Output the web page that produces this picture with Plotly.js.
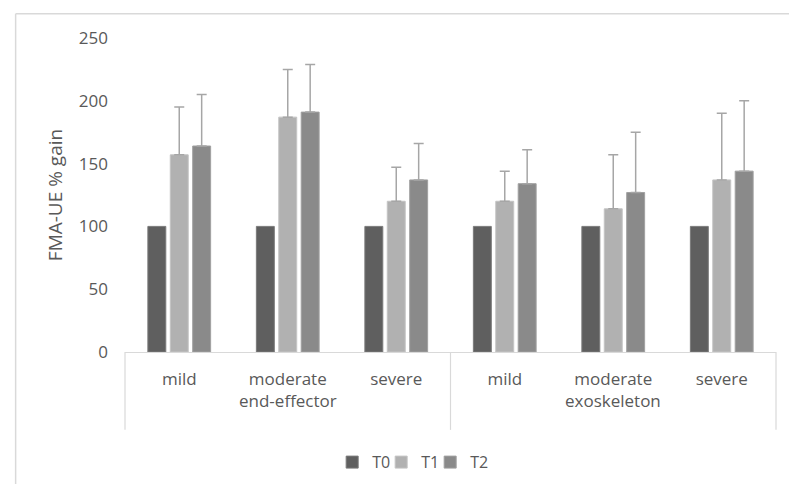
<!DOCTYPE html>
<html>
<head>
<meta charset="utf-8">
<script src="https://cdn.plot.ly/plotly-3.0.1.min.js"></script>
<style>html,body{margin:0;padding:0;background:#fff;}#chart{width:789px;height:484px;}</style>
</head>
<body>
<div id="chart"></div>
<script>
// Data
var devices = ["end-effector", "end-effector", "end-effector", "exoskeleton", "exoskeleton", "exoskeleton"];
var severity = ["mild", "moderate", "severe", "mild", "moderate", "severe"];
var seriesNames = ["T0", "T1", "T2"];
var t0 = [100, 100, 100, 100, 100, 100];
var t1 = [157, 187, 120, 120, 114, 137];
var t2 = [164, 191, 137, 134, 127, 144];
var t0err = [0, 0, 0, 0, 0, 0];
var t1err = [38, 38, 27, 24, 43, 53];
var t2err = [41, 38, 29, 27, 48, 56];
var yTicks = [0, 50, 100, 150, 200, 250];

var colors = ["#5f5f5f", "#b1b1b1", "#8a8a8a"];
var lineColors = ["#7a7a7a", "#c4c4c4", "#a0a0a0"];
var legendWidths = [4, 4, 26];
var values = [t0, t1, t2];
var errs = [t0err, t1err, t2err];

// unique category keys (device | severity); shown with the severity label only
var xKeys = devices.map(function (d, i) { return d + "|" + severity[i]; });

// one group label per device, centred on the middle category of that device
var groups = [];
devices.forEach(function (d, i) {
  var g = groups.filter(function (o) { return o.name === d; })[0];
  if (!g) { g = { name: d, idx: [] }; groups.push(g); }
  g.idx.push(i);
});

var FONT = "'Open Sans', sans-serif";
var traces = seriesNames.map(function (name, i) {
  var tr = {
    type: "bar",
    name: name,
    x: xKeys,
    y: values[i],
    legendwidth: legendWidths[i],
    marker: { color: colors[i], line: { color: lineColors[i], width: 1 } },
    hoverinfo: "skip"
  };
  if (i > 0) {
    tr.error_y = {
      type: "data",
      symmetric: false,
      array: errs[i],
      arrayminus: errs[i].map(function () { return 0; }),
      color: "#a6a6a6",
      thickness: 1.5,
      width: 5
    };
  }
  return tr;
});

var annotations = groups.map(function (g) {
  var mid = (g.idx[0] + g.idx[g.idx.length - 1]) / 2;
  return {
    xref: "x", yref: "paper",
    x: mid, y: -0.156,
    text: g.name,
    showarrow: false,
    xanchor: "center", yanchor: "middle",
    font: { family: FONT, size: 17, color: "#595959" }
  };
});

var boxLine = { color: "#d9d9d9", width: 1.2 };
var layout = {
  width: 789,
  height: 484,
  paper_bgcolor: "#ffffff",
  plot_bgcolor: "#ffffff",
  font: { family: FONT, size: 17, color: "#595959" },
  margin: { l: 124.5, r: 12.5, t: 38, b: 132 },
  barmode: "group",
  bargap: 0.38,
  bargroupgap: 0.2,
  showlegend: true,
  legend: {
    orientation: "h",
    xref: "container",
    yref: "container",
    x: 0.421,
    xanchor: "left",
    y: 0.045,
    yanchor: "middle",
    font: { family: FONT, size: 16, color: "#595959" },
    itemwidth: 30,
    traceorder: "normal"
  },
  xaxis: {
    type: "category",
    tickvals: xKeys,
    ticktext: severity,
    showline: true,
    linecolor: "#d9d9d9",
    linewidth: 1,
    showgrid: false,
    ticks: "",
    ticklabelstandoff: 12,
    tickfont: { family: FONT, size: 17, color: "#595959" },
    fixedrange: true
  },
  yaxis: {
    range: [0, 250],
    tickvals: yTicks,
    ticktext: yTicks.map(String),
    showgrid: false,
    zeroline: false,
    showline: false,
    ticks: "",
    ticklabelstandoff: 16,
    tickfont: { family: FONT, size: 17, color: "#595959" },
    title: { text: "FMA-UE % gain", font: { family: FONT, size: 19, color: "#595959" }, standoff: 11 },
    fixedrange: true
  },
  annotations: annotations,
  shapes: [
    { type: "line", xref: "paper", yref: "paper", x0: -0.168, x1: -0.168, y0: -0.6, y1: 1.0775, line: { color: "#d9d9d9", width: 1.5 } },
    { type: "line", xref: "paper", yref: "paper", x0: -0.168, x1: 1.1, y0: 1.0775, y1: 1.0775, line: { color: "#d9d9d9", width: 1.5 } },
    { type: "line", xref: "paper", yref: "paper", x0: 0, x1: 0, y0: 0, y1: -0.248, line: boxLine },
    { type: "line", xref: "paper", yref: "paper", x0: 0.5, x1: 0.5, y0: 0, y1: -0.248, line: boxLine },
    { type: "line", xref: "paper", yref: "paper", x0: 1, x1: 1, y0: 0, y1: -0.248, line: boxLine }
  ]
};

Plotly.newPlot("chart", traces, layout, { staticPlot: true, displayModeBar: false });
</script>
</body>
</html>
